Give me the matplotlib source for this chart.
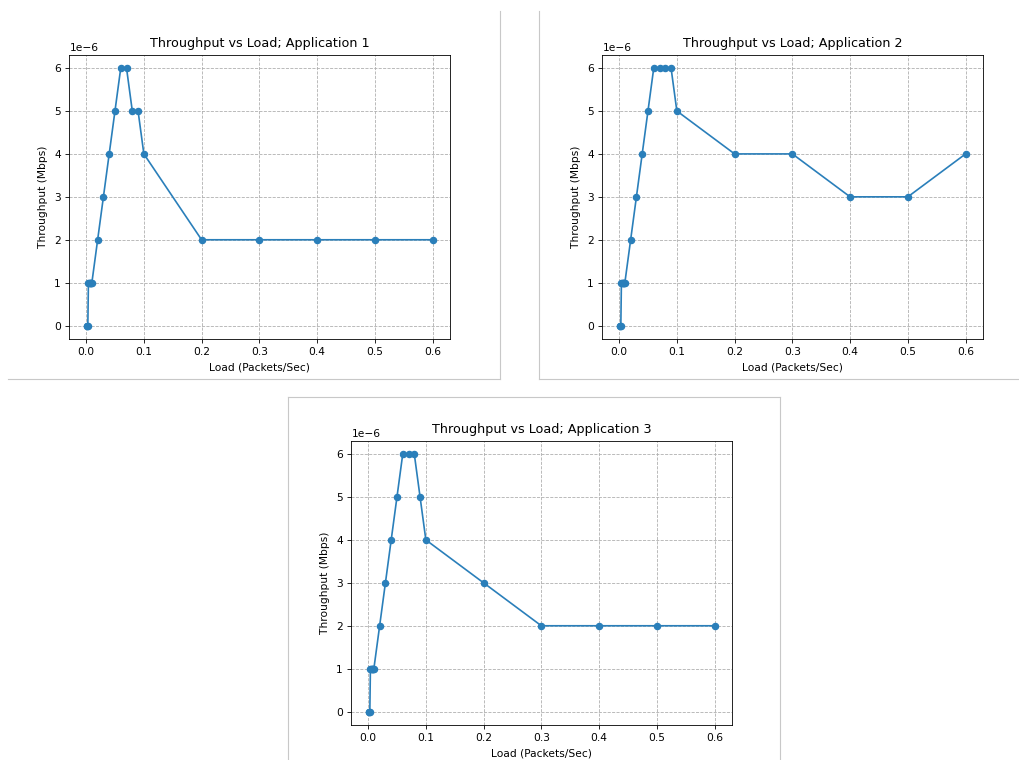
import matplotlib
matplotlib.use("Agg")
import matplotlib.pyplot as plt
from matplotlib.lines import Line2D

# Carga ofrecida (paquetes/seg)
load = [0.001, 0.002, 0.003, 0.004, 0.005, 0.006, 0.007, 0.008, 0.009,
        0.01, 0.02, 0.03, 0.04, 0.05, 0.06, 0.07, 0.08, 0.09, 0.1,
        0.2, 0.3, 0.4, 0.5, 0.6]

# Throughput medido por aplicacion (en unidades de 1e-6 Mbps)
app1 = [0, 0, 0, 1, 1, 1, 1, 1, 1, 1, 2, 3, 4, 5, 6, 6, 5, 5, 4, 2, 2, 2, 2, 2]
app2 = [0, 0, 0, 1, 1, 1, 1, 1, 1, 1, 2, 3, 4, 5, 6, 6, 6, 6, 5, 4, 4, 3, 3, 4]
app3 = [0, 0, 0, 1, 1, 1, 1, 1, 1, 1, 2, 3, 4, 5, 6, 6, 6, 5, 4, 3, 2, 2, 2, 2]

titles = ["Throughput vs Load; Application 1",
          "Throughput vs Load; Application 2",
          "Throughput vs Load; Application 3"]

W, H = 1019, 760
fig = plt.figure(figsize=(W / 100, H / 100), dpi=100)

# cada panel: esquina superior izquierda (px) de un lienzo de 491x368
panels = [(8, 11), (541, 11), (290, 397)]
pw, ph = 491, 368

for (x0, y0), serie, titulo in zip(panels, [app1, app2, app3], titles):
    left = x0 + 0.125 * pw
    right = x0 + 0.9 * pw
    top = y0 + 0.12 * ph
    bottom = y0 + 0.89 * ph
    ax = fig.add_axes([left / W, 1 - bottom / H, (right - left) / W, (bottom - top) / H])
    ax.plot(load, [v * 1e-6 for v in serie], marker='o', markersize=4.4,
            color='#2a7fba', linewidth=1.2)
    ax.set_title(titulo, fontsize=9.2)
    ax.set_xlabel('Load (Packets/Sec)', fontsize=7.7)
    ax.set_ylabel('Throughput (Mbps)', fontsize=7.7)
    ax.tick_params(labelsize=7.7, length=2.7, width=0.6)
    ax.yaxis.get_offset_text().set_fontsize(7.7)
    ax.grid(True, linestyle='--', color='#b0b0b0', linewidth=0.6)
    for s in ax.spines.values():
        s.set_linewidth(0.6)

# marcos grises de cada captura
gris = '#c8c8c8'
bordes = [
    ((500, 500), (11, 379)),
    ((8, 500), (379, 379)),
    ((539, 539), (11, 379)),
    ((539, 1018), (379, 379)),
    ((288, 780), (397, 397)),
    ((288, 288), (397, 760)),
    ((780, 780), (397, 760)),
]
for xs, ys in bordes:
    fig.add_artist(Line2D([x / W for x in xs], [1 - y / H for y in ys],
                          transform=fig.transFigure, color=gris, linewidth=0.8))

fig.savefig('out.png', dpi=100)
